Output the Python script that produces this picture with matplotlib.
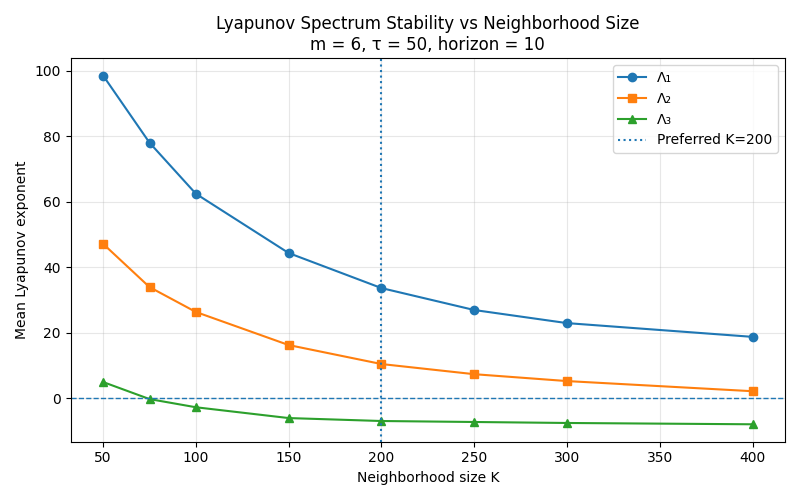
import matplotlib
matplotlib.use("Agg")
import matplotlib.pyplot as plt

# Neighborhood sizes and mean Lyapunov exponents
k_values = [50, 75, 100, 150, 200, 250, 300, 400]
lambda1 = [98.5, 78.0, 62.4, 44.3, 33.6, 26.9, 22.9, 18.7]
lambda2 = [47.1, 33.9, 26.3, 16.2, 10.4, 7.3, 5.2, 2.1]
lambda3 = [4.9, -0.3, -2.8, -6.1, -7.0, -7.3, -7.6, -8.0]
preferred_k = 200

fig, ax = plt.subplots(figsize=(8, 5), dpi=100)

ax.plot(k_values, lambda1, marker='o', label='Λ₁')
ax.plot(k_values, lambda2, marker='s', label='Λ₂')
ax.plot(k_values, lambda3, marker='^', label='Λ₃')

ax.axhline(0, linestyle='--', linewidth=1)
ax.axvline(preferred_k, linestyle=':', label=f'Preferred K={preferred_k}')

ax.set_title('Lyapunov Spectrum Stability vs Neighborhood Size\nm = 6, τ = 50, horizon = 10')
ax.set_xlabel('Neighborhood size K')
ax.set_ylabel('Mean Lyapunov exponent')
ax.grid(True, alpha=0.3)
ax.legend()

fig.tight_layout()
fig.savefig('out.png')
